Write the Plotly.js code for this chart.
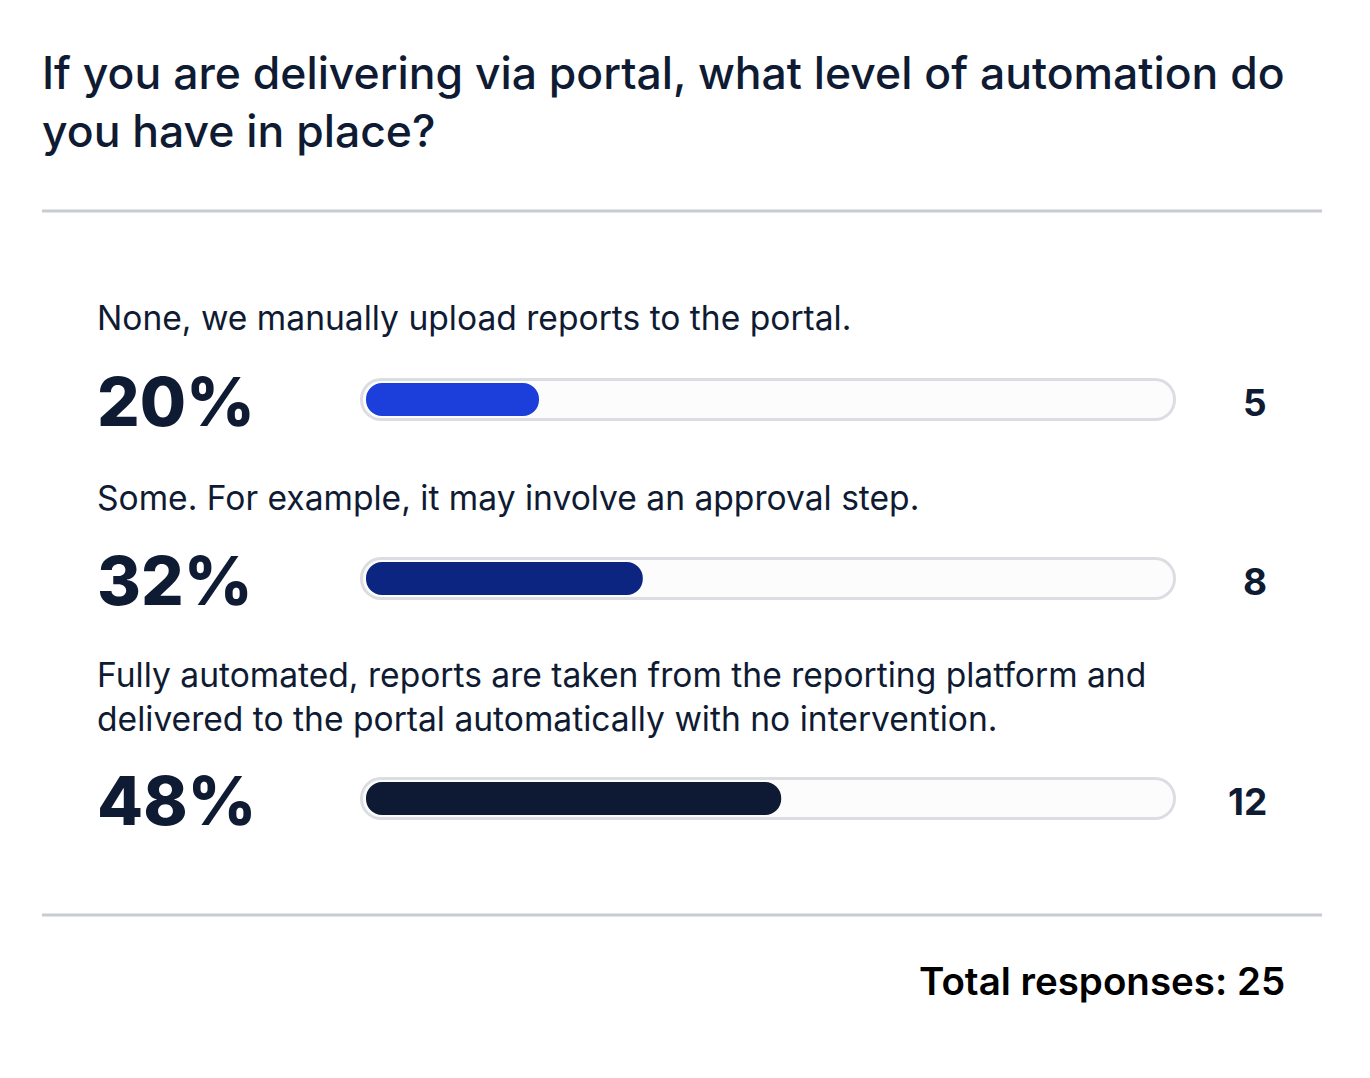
<!DOCTYPE html>
<html>
<head>
<meta charset="utf-8">
<script src="https://cdn.plot.ly/plotly-3.0.1.min.js"></script>
<style>
  html, body { margin: 0; padding: 0; background: #ffffff; }
  #chart { width: 1370px; height: 1078px; }
</style>
</head>
<body>
<div id="chart"></div>
<script>
// ---- data ----
const titleText = "If you are delivering via portal, what level of automation do<br>you have in place?";
const categories = [
  "None, we manually upload reports to the portal.",
  "Some. For example, it may involve an approval step.",
  "Fully automated, reports are taken from the reporting platform and<br>delivered to the portal automatically with no intervention."
];
const counts = [5, 8, 12];
const totalResponses = 25;
const trackMax = 100;

// ---- styles / layout constants ----
const W = 1370, H = 1078;
const barColors = ["#1c3fdc", "#0c2580", "#0e1a33"];
const textColor = "#0f1b33";
const trackBorder = "#dcdde2";
const trackFill = "#fcfcfd";
const FONT = "Inter, 'Open Sans', sans-serif";
const rowCenters = [399.5, 578.5, 798.5];   // pixel centres of each row's bar
const labelCenters = [318, 497, 696];
const rowHalf = 30;                          // half height of each row subplot (px)

const px = v => v / W;
const py = v => 1 - v / H;

const percents = counts.map(c => Math.round(c / totalResponses * 100));

const traces = [];
const layout = {
  width: W, height: H,
  margin: {l: 0, r: 0, t: 0, b: 0},
  paper_bgcolor: "#ffffff",
  plot_bgcolor: "rgba(0,0,0,0)",
  showlegend: false,
  barmode: "overlay",
  font: {family: FONT, color: textColor},
  title: {
    text: titleText,
    x: px(42), xanchor: "left",
    y: py(89), yanchor: "top",
    font: {family: FONT, size: 44.5, weight: 500, color: textColor}
  },
  // outer track (border), inner track (fill), value bars
  xaxis:  {domain: [px(360), px(1176)], range: [0, trackMax], visible: false, fixedrange: true, anchor: "y"},
  xaxis2: {domain: [px(363), px(1173)], range: [0, trackMax], visible: false, fixedrange: true, anchor: "y"},
  xaxis3: {domain: [px(366), px(366 + 865)], range: [0, 100], visible: false, fixedrange: true, anchor: "y"},
  shapes: [
    {type: "line", xref: "paper", yref: "paper", x0: px(42), x1: px(1322), y0: py(211), y1: py(211),
     line: {color: "#c9cbd3", width: 3}},
    {type: "line", xref: "paper", yref: "paper", x0: px(42), x1: px(1322), y0: py(915), y1: py(915),
     line: {color: "#c9cbd3", width: 3}}
  ],
  annotations: []
};

// a pill-shaped bar: explicit base makes both ends rounded
function pill(value, xa, ya, thicknessPx, color, hover) {
  traces.push({
    type: "bar", orientation: "h",
    base: [0], x: [value], y: [0], xaxis: xa, yaxis: ya,
    width: thicknessPx / (2 * rowHalf),
    marker: {color: color, line: {width: 0}, cornerradius: "50%"},
    hoverinfo: hover ? "text" : "skip", hovertext: hover || ""
  });
}

categories.forEach((cat, i) => {
  const yName = i === 0 ? "y" : "y" + (i + 1);
  const yKey = i === 0 ? "yaxis" : "yaxis" + (i + 1);
  const c = rowCenters[i];
  layout[yKey] = {
    domain: [py(c + rowHalf), py(c - rowHalf)],
    range: [-0.5, 0.5], visible: false, fixedrange: true, anchor: "x"
  };
  pill(trackMax, "x", yName, 43, trackBorder);
  pill(trackMax, "x2", yName, 37, trackFill);
  pill(percents[i], "x3", yName, 33, barColors[i], percents[i] + "%");

  // category label
  layout.annotations.push({
    xref: "paper", yref: "paper", x: px(95), y: py(labelCenters[i]),
    xanchor: "left", yanchor: "middle", align: "left", showarrow: false,
    text: cat, font: {family: FONT, size: 33.6, weight: 400, color: textColor}
  });
  // percent
  layout.annotations.push({
    xref: "paper", yref: "paper", x: px(95), y: py(c + 2),
    xanchor: "left", yanchor: "middle", showarrow: false,
    text: percents[i] + "%", font: {family: FONT, size: 67, weight: 800, color: textColor}
  });
  // count
  layout.annotations.push({
    xref: "paper", yref: "paper", x: px(1269), y: py(c + 3),
    xanchor: "right", yanchor: "middle", showarrow: false,
    text: String(counts[i]), font: {family: FONT, size: 37, weight: 700, color: textColor}
  });
});

layout.annotations.push({
  xref: "paper", yref: "paper", x: px(1287), y: py(981),
  xanchor: "right", yanchor: "middle", showarrow: false,
  text: "Total responses: " + totalResponses,
  font: {family: FONT, size: 38.5, weight: 600, color: "#000000"}
});

Plotly.newPlot("chart", traces, layout, {displayModeBar: false, staticPlot: true});
</script>
</body>
</html>
